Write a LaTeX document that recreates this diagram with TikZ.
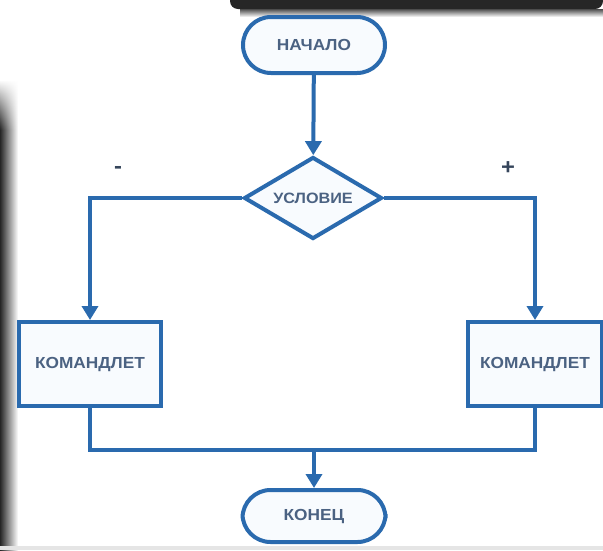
\documentclass[tikz,border=0pt]{standalone}
\usepackage{fontspec}
\setmainfont{Liberation Sans}[FakeStretch=1.08]
\usetikzlibrary{shapes.geometric,arrows.meta,fadings}
\definecolor{flowline}{HTML}{2A6AAE}
\definecolor{flowtext}{HTML}{4B6282}
\definecolor{flowfill}{HTML}{F8FBFE}
\tikzset{
  box/.style={draw=flowline, line width=4pt, fill=flowfill, text=flowtext,
    font=\bfseries\fontsize{16}{18}\selectfont, inner sep=0pt},
  terminal/.style={box, rectangle, rounded corners=28pt,
    minimum width=142pt, minimum height=56pt},
  decision/.style={box, diamond, aspect=1.68, minimum width=138pt, minimum height=82pt,
    font=\bfseries\fontsize{15}{17}\selectfont},
  process/.style={box, rectangle, minimum width=142pt, minimum height=84pt},
  flow/.style={draw=flowline, line width=4pt},
  arrow/.style={flow, -{Triangle[length=14pt,width=16pt]}},
  sign/.style={text=flowtext!70!black, font=\bfseries\fontsize{22}{24}\selectfont}
}
\begin{document}
\begin{tikzpicture}[x=1pt,y=-1pt]
  \useasboundingbox (0,0) rectangle (603,550);
  \fill[white] (0,0) rectangle (603,550);
  % dark frame edges
  \shade[left color=black!85, right color=white, path fading=north] (0,80) rectangle (18,130);
  \shade[left color=black!85, right color=white] (0,130) rectangle (18,550);
  \fill[black!85, rounded corners=8pt] (230,-10) rectangle (603,9);
  \shade[top color=black!70, bottom color=white] (240,9) rectangle (603,17);
  \fill[black!10] (0,546) rectangle (603,550);

  % nodes
  \node[terminal] (start) at (314,45) {НАЧАЛО};
  \node[decision] (cond) at (313,198) {УСЛОВИЕ};
  \node[process] (left) at (90,364) {КОМАНДЛЕТ};
  \node[process, minimum width=134pt] (right) at (535,364) {КОМАНДЛЕТ};
  \node[terminal, minimum width=143pt, minimum height=52pt] (stop) at (314,516) {КОНЕЦ};
  \coordinate (merge) at (314,450);

  % branch signs
  \node[sign] (minus) at (118,170) {-};
  \node[sign] (plus) at (508,168) {+};

  % connectors
  \draw[arrow] (start) -- (cond);
  \draw[arrow] (cond.west) -| (left.north);
  \draw[arrow] (cond.east) -| (right.north);
  \draw[flow] (left.south) |- (merge) -| (right.south);
  \draw[arrow] (merge) -- (stop);
\end{tikzpicture}
\end{document}
